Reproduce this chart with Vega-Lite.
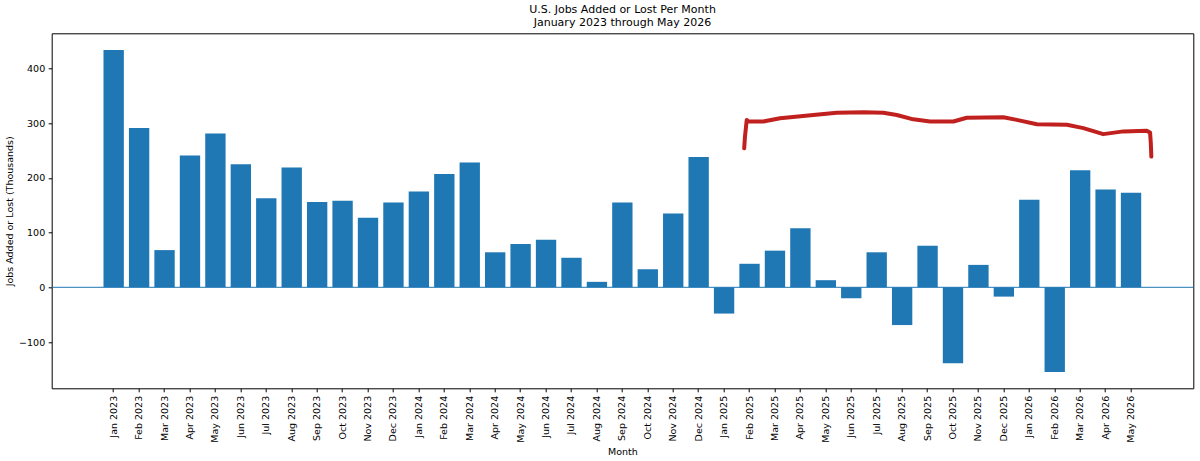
{
  "$schema": "https://vega.github.io/schema/vega-lite/v6.json",
  "width": 1141.6,
  "height": 355,
  "autosize": {"type": "none"},
  "padding": {"left": 51.7, "top": 33.3, "right": 6.7, "bottom": 72.7},
  "title": {
    "text": ["U.S. Jobs Added or Lost Per Month", "January 2023 through May 2026"],
    "font": "DejaVu Sans",
    "fontSize": 11,
    "fontWeight": "normal",
    "color": "#000",
    "anchor": "middle",
    "lineHeight": 13.4,
    "offset": 5
  },
  "datasets": {
    "jobs": [
      {"month": "Jan 2023", "jobs": 434},
      {"month": "Feb 2023", "jobs": 291},
      {"month": "Mar 2023", "jobs": 68},
      {"month": "Apr 2023", "jobs": 241},
      {"month": "May 2023", "jobs": 281},
      {"month": "Jun 2023", "jobs": 225},
      {"month": "Jul 2023", "jobs": 163},
      {"month": "Aug 2023", "jobs": 219},
      {"month": "Sep 2023", "jobs": 156},
      {"month": "Oct 2023", "jobs": 158},
      {"month": "Nov 2023", "jobs": 127},
      {"month": "Dec 2023", "jobs": 155},
      {"month": "Jan 2024", "jobs": 175},
      {"month": "Feb 2024", "jobs": 207},
      {"month": "Mar 2024", "jobs": 228},
      {"month": "Apr 2024", "jobs": 64},
      {"month": "May 2024", "jobs": 79},
      {"month": "Jun 2024", "jobs": 87},
      {"month": "Jul 2024", "jobs": 54},
      {"month": "Aug 2024", "jobs": 10},
      {"month": "Sep 2024", "jobs": 155},
      {"month": "Oct 2024", "jobs": 33},
      {"month": "Nov 2024", "jobs": 135},
      {"month": "Dec 2024", "jobs": 238},
      {"month": "Jan 2025", "jobs": -48},
      {"month": "Feb 2025", "jobs": 43},
      {"month": "Mar 2025", "jobs": 67},
      {"month": "Apr 2025", "jobs": 108},
      {"month": "May 2025", "jobs": 13},
      {"month": "Jun 2025", "jobs": -20},
      {"month": "Jul 2025", "jobs": 64},
      {"month": "Aug 2025", "jobs": -69},
      {"month": "Sep 2025", "jobs": 76},
      {"month": "Oct 2025", "jobs": -139},
      {"month": "Nov 2025", "jobs": 41},
      {"month": "Dec 2025", "jobs": -17},
      {"month": "Jan 2026", "jobs": 160},
      {"month": "Feb 2026", "jobs": -155},
      {"month": "Mar 2026", "jobs": 214},
      {"month": "Apr 2026", "jobs": 179},
      {"month": "May 2026", "jobs": 173}
    ],
    "pen": [
      {"seq": 1, "pos": 24.79, "val": 254},
      {"seq": 2, "pos": 24.82, "val": 275},
      {"seq": 3, "pos": 24.89, "val": 306},
      {"seq": 4, "pos": 24.95, "val": 303},
      {"seq": 5, "pos": 25.54, "val": 303},
      {"seq": 6, "pos": 26.2, "val": 309},
      {"seq": 7, "pos": 27.51, "val": 315},
      {"seq": 8, "pos": 28.43, "val": 319},
      {"seq": 9, "pos": 29.48, "val": 320},
      {"seq": 10, "pos": 30.26, "val": 319},
      {"seq": 11, "pos": 30.79, "val": 315},
      {"seq": 12, "pos": 31.44, "val": 307},
      {"seq": 13, "pos": 32.1, "val": 303},
      {"seq": 14, "pos": 33.02, "val": 303},
      {"seq": 15, "pos": 33.54, "val": 310},
      {"seq": 16, "pos": 34.98, "val": 311},
      {"seq": 17, "pos": 35.51, "val": 306},
      {"seq": 18, "pos": 36.3, "val": 298},
      {"seq": 19, "pos": 37.48, "val": 297},
      {"seq": 20, "pos": 38.13, "val": 291},
      {"seq": 21, "pos": 38.91, "val": 280},
      {"seq": 22, "pos": 39.7, "val": 285},
      {"seq": 23, "pos": 40.62, "val": 286},
      {"seq": 24, "pos": 40.75, "val": 283},
      {"seq": 25, "pos": 40.78, "val": 263},
      {"seq": 26, "pos": 40.8, "val": 239}
    ],
    "zero": [{"level": 0}]
  },
  "layer": [
    {
      "data": {"name": "jobs"},
      "mark": {"type": "bar", "color": "#1f77b4"},
      "encoding": {
        "x": {
          "field": "month",
          "type": "nominal",
          "sort": null,
          "title": "Month",
          "scale": {"paddingInner": 0.2, "paddingOuter": 0, "range": [51.8, 1089.5]},
          "axis": {"labelAngle": -90, "labelAlign": "right", "labelBaseline": "middle"}
        },
        "y": {
          "field": "jobs",
          "type": "quantitative",
          "title": "Jobs Added or Lost (Thousands)",
          "scale": {"domain": [-184.6, 464.3], "nice": false, "zero": false},
          "axis": {"values": [-100, 0, 100, 200, 300, 400]}
        }
      }
    },
    {
      "data": {"name": "zero"},
      "mark": {"type": "rule", "color": "#1f77b4", "strokeWidth": 1},
      "encoding": {
        "y": {"field": "level", "type": "quantitative"}
      }
    },
    {
      "data": {"name": "pen"},
      "mark": {"type": "line", "color": "#c0201e", "strokeWidth": 4, "strokeCap": "round", "strokeJoin": "round", "interpolate": "linear"},
      "encoding": {
        "x": {"field": "pos", "type": "quantitative", "scale": {"domain": [-2.44, 42.45], "nice": false, "zero": false}, "axis": null},
        "y": {"field": "val", "type": "quantitative"},
        "order": {"field": "seq"}
      }
    }
  ],
  "resolve": {"scale": {"x": "independent"}},
  "config": {
    "view": {"stroke": "#000", "strokeWidth": 1},
    "axis": {
      "domain": false,
      "grid": false,
      "ticks": true,
      "tickColor": "#000",
      "tickSize": 3.5,
      "labelPadding": 3.5,
      "labelFont": "DejaVu Sans",
      "labelFontSize": 9.5,
      "labelColor": "#000",
      "titleFont": "DejaVu Sans",
      "titleFontSize": 9.5,
      "titleFontWeight": "normal",
      "titleColor": "#000",
      "titlePadding": 4
    }
  }
}
